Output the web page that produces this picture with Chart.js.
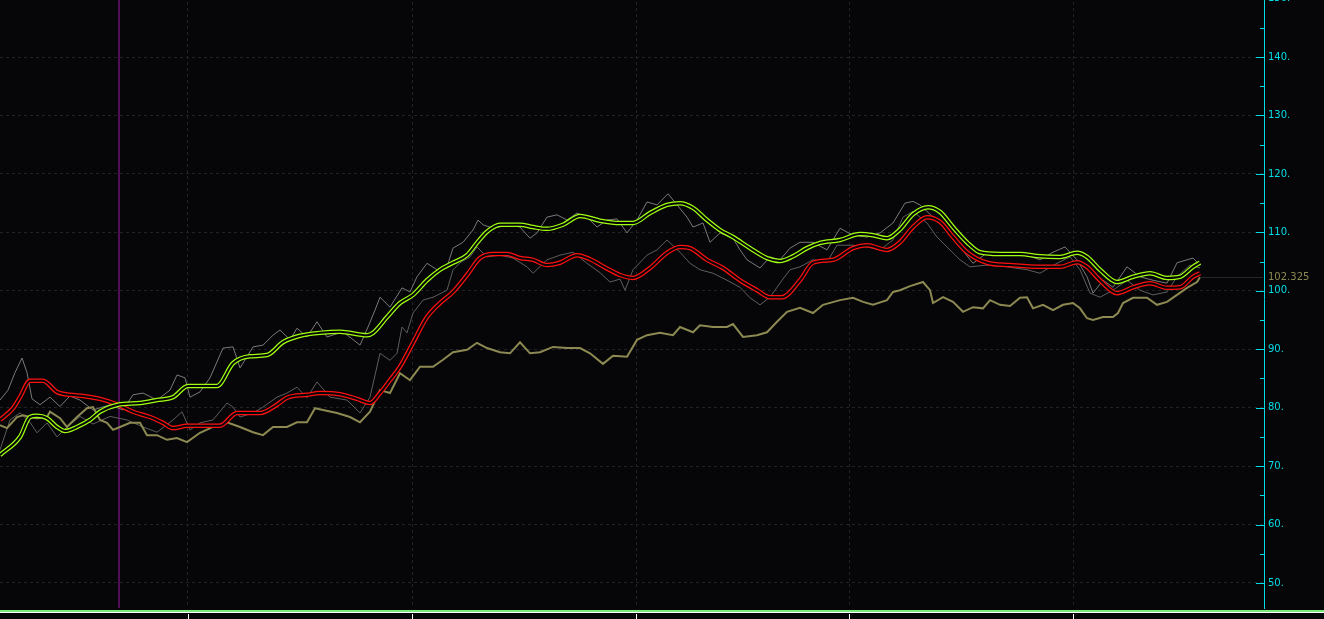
<!DOCTYPE html>
<html><head><meta charset="utf-8">
<script src="https://cdn.jsdelivr.net/npm/chart.js@4.4.1/dist/chart.umd.min.js"></script>
<style>
html,body{margin:0;padding:0;background:#060608;overflow:hidden;width:1324px;height:619px;}
#wrap{position:absolute;left:0;top:-10px;width:1324px;height:629px;}
</style></head><body>
<div id="wrap"><canvas id="c" width="1324" height="629"></canvas></div>
<script>
// ---- data (x = session index, y = price) ----
const yMin = 45.72, yMax = 151.47;
const yMajor = [50,60,70,80,90,100,110,120,130,140,150];
const yMinor = [55,65,75,85,95,105,115,125,135,145];
const monthTicks = [188,412,636,849,1073];
const cursorX = 119;

const greenMA = [[0,71.9],[20,75.0],[30,78.4],[37,78.6],[47,78.2],[57,76.7],[65,76.0],[77,76.7],[90,77.9],[100,79.3],[118,80.5],[140,80.8],[157,81.3],[173,81.8],[188,83.7],[217,83.7],[233,87.6],[250,88.8],[267,89.0],[283,91.2],[300,92.3],[320,92.8],[340,93.0],[367,92.4],[373,92.8],[387,95.5],[400,97.9],[413,99.3],[427,101.8],[440,103.6],[453,104.8],[467,106.1],[477,108.2],[487,110.1],[500,111.3],[520,111.3],[533,110.9],[547,110.6],[563,111.3],[580,112.8],[600,112.0],[620,111.6],[633,111.6],[650,113.3],[667,114.7],[680,115.0],[693,114.2],[707,112.1],[720,110.4],[733,109.2],[750,107.3],[767,105.6],[780,105.1],[793,105.9],[807,107.3],[820,108.2],[840,108.7],[860,109.7],[873,109.5],[887,109.0],[900,110.5],[913,113.1],[928,114.3],[940,113.5],[953,110.9],[967,108.3],[980,106.6],[1000,106.3],[1020,106.3],[1040,105.9],[1060,105.8],[1077,106.5],[1087,105.8],[1100,103.6],[1117,101.5],[1133,102.4],[1150,103.0],[1167,102.2],[1180,102.4],[1193,104.1],[1200,104.8]];

const redMA = [[0,77.9],[13,79.9],[20,81.8],[30,84.6],[43,84.6],[57,82.7],[70,82.2],[83,82.0],[100,81.5],[118,80.5],[133,79.3],[150,78.4],[163,77.4],[173,76.5],[187,76.9],[207,76.9],[220,76.9],[237,79.1],[260,79.1],[277,80.5],[287,81.7],[307,82.2],[320,82.5],[340,82.3],[357,81.5],[370,80.8],[380,82.5],[390,84.7],[400,87.0],[413,91.1],[427,95.5],[440,97.9],[453,99.8],[467,102.7],[480,105.6],[493,106.3],[507,106.3],[520,105.6],[533,105.3],[547,104.4],[560,104.8],[577,106.1],[590,105.4],[605,104.0],[620,102.7],[633,102.2],[650,103.9],[667,106.5],[680,107.5],[690,107.3],[707,105.3],[723,103.9],[740,101.8],[757,100.1],[770,98.9],[782,98.9],[800,101.8],[813,104.8],[833,105.3],[853,107.3],[867,107.8],[887,107.0],[900,108.3],[913,110.9],[927,112.6],[940,111.8],[953,109.2],[967,106.6],[987,104.8],[1010,104.4],[1040,104.1],[1060,104.1],[1077,104.9],[1087,104.1],[1100,101.8],[1117,99.6],[1133,100.6],[1150,101.3],[1167,100.5],[1180,100.6],[1193,102.4],[1200,103.0]];

const grayUpper = [[0,81.3],[8,83.0],[15,86.0],[22,88.5],[27,86.0],[32,81.5],[40,80.5],[50,81.8],[60,80.2],[70,82.0],[80,81.3],[93,79.6],[110,80.5],[123,79.6],[133,82.2],[143,82.5],[157,81.3],[170,83.0],[177,85.6],[185,85.1],[190,81.8],[200,82.7],[210,85.1],[223,90.2],[233,90.4],[240,86.8],[253,90.4],[263,90.7],[273,92.4],[280,93.3],[290,91.6],[297,93.6],[307,92.1],[317,94.7],[327,92.1],[343,93.0],[360,90.7],[368,93.8],[375,96.7],[380,98.9],[390,97.2],[402,100.5],[410,99.8],[417,102.4],[427,104.7],[437,103.6],[447,104.1],[453,107.3],[463,108.3],[473,110.4],[478,112.1],[483,111.3],[493,110.7],[510,111.3],[520,110.9],[530,109.0],[537,109.9],[547,112.6],[557,113.0],[567,112.1],[577,113.3],[587,112.6],[597,110.9],[607,112.1],[617,112.3],[627,109.9],[637,112.1],[647,115.2],[657,114.7],[668,116.6],[677,114.7],[687,112.6],[693,110.9],[703,111.6],[710,108.3],[720,109.9],[733,109.0],[740,107.0],[747,105.3],[760,103.9],[770,105.8],[780,105.3],[790,107.3],[800,108.3],[813,108.3],[827,107.0],[840,110.7],[853,109.5],[867,109.2],[880,109.9],[893,111.6],[905,115.0],[913,115.3],[920,114.7],[933,112.6],[947,110.4],[960,107.5],[973,104.7],[987,106.5],[1000,106.1],[1013,106.5],[1027,106.1],[1040,105.3],[1053,106.6],[1065,107.5],[1077,105.3],[1087,102.4],[1093,99.6],[1103,101.8],[1113,100.6],[1127,104.1],[1140,102.4],[1153,101.8],[1167,101.3],[1177,104.8],[1187,105.3],[1193,105.6],[1200,104.4]];

const grayLower = [[0,72.8],[10,77.9],[20,79.1],[30,77.5],[37,75.7],[47,77.4],[57,75.0],[67,76.7],[80,78.5],[93,77.2],[110,78.5],[127,77.9],[143,76.7],[157,75.8],[173,77.9],[182,79.3],[190,76.2],[200,77.4],[213,77.9],[227,80.8],[233,80.1],[240,78.4],[253,79.1],[263,80.1],[277,81.8],[287,82.5],[297,83.5],[307,81.7],[317,84.4],[330,81.8],[347,81.3],[360,79.1],[370,81.8],[380,89.3],[390,88.1],[397,89.3],[402,93.8],[407,92.8],[413,96.2],[423,98.4],[433,98.9],[447,100.1],[453,103.6],[460,104.8],[470,105.8],[477,107.5],[487,105.8],[500,106.1],[513,105.6],[527,104.1],[533,103.0],[547,105.3],[560,106.1],[573,106.6],[587,104.7],[600,103.1],[610,101.5],[620,102.0],[625,100.1],[633,103.6],[647,106.1],[657,107.0],[667,108.7],[680,106.6],[690,104.7],[700,103.6],[713,103.0],[727,101.8],[740,100.6],[750,98.8],[760,97.6],[770,98.9],[782,101.8],[790,103.6],[800,104.1],[813,105.3],[827,104.9],[837,107.8],[853,107.8],[867,107.5],[880,107.0],[893,108.7],[903,112.6],[913,113.6],[927,111.6],[937,109.2],[950,107.0],[960,105.3],[970,104.1],[987,104.4],[1007,104.1],[1027,103.6],[1040,103.0],[1057,104.7],[1070,105.8],[1080,103.6],[1090,99.6],[1100,98.9],[1113,100.1],[1127,101.8],[1140,100.1],[1153,99.3],[1167,99.8],[1177,102.4],[1190,104.4],[1200,103.9]];

const oliveSeries = [[0,77.0],[7,76.5],[17,78.4],[23,78.7],[30,78.4],[37,78.2],[47,78.4],[50,79.3],[60,78.2],[67,76.7],[77,78.4],[87,79.9],[93,80.1],[100,77.9],[107,77.4],[113,76.2],[120,76.7],[130,77.4],[140,77.4],[147,75.3],[157,75.3],[167,74.5],[177,74.8],[187,74.1],[200,75.7],[213,76.7],[227,77.5],[240,76.7],[253,75.8],[263,75.3],[273,76.7],[287,76.7],[297,77.5],[307,77.5],[315,79.9],[323,79.6],[337,79.1],[350,78.4],[360,77.5],[370,79.3],[380,83.0],[390,82.5],[400,85.9],[410,84.7],[420,87.0],[433,87.0],[443,88.2],[453,89.5],[467,89.9],[477,91.1],[487,90.2],[500,89.5],[510,89.3],[520,91.2],[530,89.3],[540,89.5],[553,90.4],[567,90.2],[580,90.2],[590,89.3],[603,87.5],[613,88.9],[627,88.7],[637,91.6],[647,92.4],[660,92.8],[673,92.4],[680,93.8],[693,92.9],[700,94.1],[713,93.8],[727,93.8],[733,94.3],[743,92.1],[757,92.4],[767,92.9],[777,94.7],[787,96.4],[800,97.1],[813,96.2],[823,97.6],[840,98.4],[853,98.8],[863,98.1],[873,97.6],[887,98.4],[893,99.8],[900,100.1],[910,100.8],[923,101.5],[930,100.1],[933,97.9],[943,98.9],[953,98.1],[963,96.4],[973,97.2],[983,97.0],[990,98.4],[1000,97.6],[1010,97.4],[1020,98.8],[1027,98.9],[1033,97.0],[1043,97.6],[1053,96.7],[1063,97.6],[1073,97.9],[1080,97.0],[1087,95.3],[1093,95.0],[1103,95.5],[1113,95.5],[1118,96.2],[1123,97.9],[1133,98.8],[1147,98.8],[1157,97.6],[1167,98.1],[1177,99.3],[1187,100.5],[1197,101.5],[1200,102.325]];

// ---- styles ----
const BG = '#060608', CYAN = '#00dde6', GRID = '#222226', OLIVE = '#8c8a52';
const GREEN = '#a0ff10', RED = '#ff1010', PURPLE = '#9a14a8';

const pts = a => a.map(([x, y]) => ({x, y}));
function doubleLine(data, color, order) {
  return [
    {data: pts(data), borderColor: BG, borderWidth: 2, order: order - 1, cubicInterpolationMode: 'monotone'},
    {data: pts(data), borderColor: color, borderWidth: 4.5, order: order, cubicInterpolationMode: 'monotone'}
  ];
}

const deco = {
  id: 'deco',
  afterDraw(chart) {
    const {ctx, chartArea: ca, scales: {x, y}} = chart;
    ctx.save();
    ctx.strokeStyle = CYAN; ctx.lineWidth = 1;
    yMajor.concat(yMinor).forEach(v => {
      const py = Math.round(y.getPixelForValue(v)) + 0.5;
      const len = yMajor.includes(v) ? 8 : 4;
      ctx.beginPath(); ctx.moveTo(ca.right - len, py); ctx.lineTo(ca.right, py); ctx.stroke();
    });
    const last = oliveSeries[oliveSeries.length - 1];
    const py = Math.round(y.getPixelForValue(last[1])) + 0.5;
    ctx.strokeStyle = '#262626';
    ctx.beginPath(); ctx.moveTo(x.getPixelForValue(last[0]), py); ctx.lineTo(ca.right - 1, py); ctx.stroke();
    ctx.fillStyle = OLIVE; ctx.font = '10px "DejaVu Sans"'; ctx.textBaseline = 'middle'; ctx.textAlign = 'left';
    ctx.fillText(last[1].toFixed(3), ca.right + 4, py);
    // bottom bar
    const W = chart.width;
    ctx.fillStyle = '#7ce87c'; ctx.fillRect(0, ca.bottom + 2, W, 2);
    ctx.fillStyle = '#ffffff'; ctx.fillRect(0, ca.bottom + 4, W, 1);
    ctx.strokeStyle = '#ffffff';
    monthTicks.forEach(v => {
      const px = Math.round(x.getPixelForValue(v)) + 0.5;
      ctx.beginPath(); ctx.moveTo(px, ca.bottom + 6); ctx.lineTo(px, chart.height); ctx.stroke();
    });
    ctx.restore();
  }
};

new Chart(document.getElementById('c'), {
  type: 'line',
  data: {
    datasets: [
      {data: [{x: cursorX, y: yMin}, {x: cursorX, y: yMax}], borderColor: PURPLE, borderWidth: 1, order: 20},
      {data: pts(grayUpper), borderColor: '#7a7a7a', borderWidth: 1, order: 19},
      {data: pts(grayLower), borderColor: '#5e5e5e', borderWidth: 1, order: 18},
      {data: pts(oliveSeries), borderColor: OLIVE, borderWidth: 2, order: 17},
      ...doubleLine(redMA, RED, 11),
      ...doubleLine(greenMA, GREEN, 6)
    ]
  },
  options: {
    responsive: false, animation: false, devicePixelRatio: 1,
    layout: {padding: 0},
    plugins: {legend: {display: false}, tooltip: {enabled: false}},
    elements: {point: {radius: 0}, line: {tension: 0, fill: false}},
    scales: {
      x: {
        type: 'linear', min: 0, max: 1264,
        afterBuildTicks: s => { s.ticks = monthTicks.map(v => ({value: v})); },
        afterFit: s => { s.height = 11; s.paddingLeft = 0; s.paddingRight = 0; },
        ticks: {display: false},
        grid: {color: GRID, drawTicks: false},
        border: {display: false, dash: [3, 3]}
      },
      y: {
        position: 'right', min: yMin, max: yMax,
        afterBuildTicks: s => { s.ticks = yMajor.map(v => ({value: v})); },
        afterFit: s => { s.width = 60; s.paddingTop = 0; s.paddingBottom = 0; },
        ticks: {color: CYAN, font: {family: 'DejaVu Sans', size: 10}, padding: 4, callback: v => v + '.'},
        grid: {color: GRID, drawTicks: false},
        border: {display: true, color: CYAN, width: 1, dash: [3, 3]}
      }
    }
  },
  plugins: [deco]
});
</script>
</body></html>
